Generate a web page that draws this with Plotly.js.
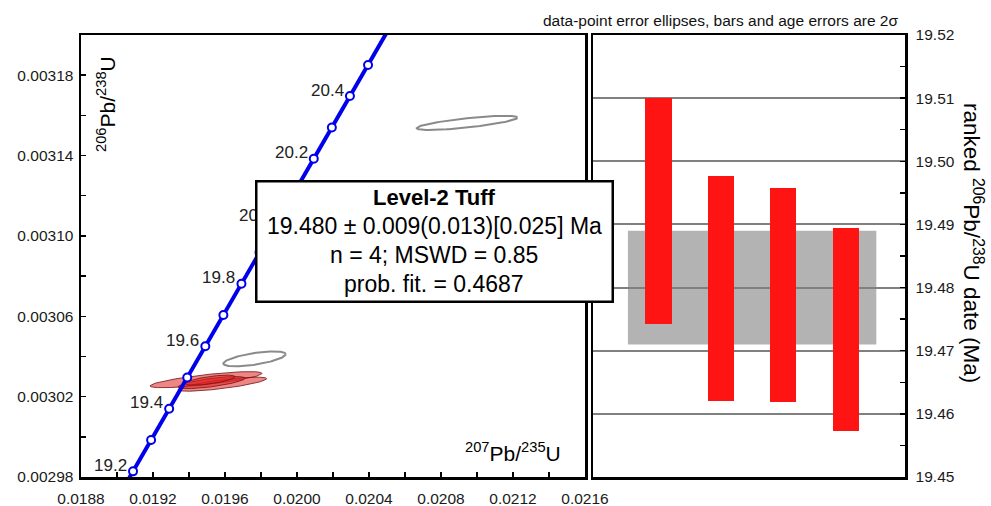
<!DOCTYPE html>
<html>
<head>
<meta charset="utf-8">
<script src="https://cdn.plot.ly/plotly-3.0.1.min.js"></script>
<style>html,body{margin:0;padding:0;background:#fff;}#chart{width:991px;height:506px;}</style>
</head>
<body>
<div id="chart"></div>
<script>
// ---- Concordia (age ticks, Ma) ----
const concAges = [19.2, 19.3, 19.4, 19.5, 19.6, 19.7, 19.8, 19.9, 20.0, 20.1, 20.2, 20.3, 20.4, 20.5];
const concX = [0.0190890, 0.0191894, 0.0192898, 0.0193902, 0.0194906, 0.0195910, 0.0196914, 0.0197918, 0.0198923, 0.0199927, 0.0200932, 0.0201936, 0.0202941, 0.0203946];
const concY = [0.0029828, 0.0029984, 0.0030140, 0.0030295, 0.0030451, 0.0030606, 0.0030762, 0.0030918, 0.0031073, 0.0031229, 0.0031384, 0.0031540, 0.0031696, 0.0031851];
// curve continued beyond the plotted window (19.1 Ma and 20.6 Ma)
const concLineX = [0.0189887].concat(concX, [0.0204951]);
const concLineY = [0.0029673].concat(concY, [0.0032007]);
const concLabels = ["19.2", "19.4", "19.6", "19.8", "20.0", "20.2", "20.4"];

// ---- Data-point ellipses (2 sigma): 207Pb/235U, 206Pb/238U, errors, rho ----
const usedX   = [0.0194944, 0.0195850, 0.0195250, 0.0195167];
const usedY   = [0.00302845, 0.0030262, 0.0030270, 0.0030282];
const usedSX  = [0.000311, 0.000246, 0.000186, 0.000139];
const usedSY  = [0.00000400, 0.00000350, 0.00000300, 0.00000250];
const usedRho = [0.78, 0.78, 0.72, 0.68];

const rejX   = [0.0209444, 0.0197639];
const rejY   = [0.00315625, 0.0030388];
const rejSX  = [0.0002794, 0.0001733];
const rejSY  = [0.00000350, 0.00000370];
const rejRho = [0.75, 0.62];

// ---- Ranked 206Pb/238U dates (Ma), 2 sigma ranges ----
const rank     = [1, 2, 3, 4];
const dateHigh = [19.5100, 19.4977, 19.4957, 19.4894];
const dateLow  = [19.4742, 19.4621, 19.4619, 19.4573];
const meanAge = 19.480;
const meanErr = 0.009;

const infoLines = ["<b>Level-2 Tuff</b>", "19.480 ± 0.009(0.013)[0.025] Ma", "n = 4; MSWD = 0.85", "prob. fit. = 0.4687"];

// ---------------------------------------------------------------
const FONT = "Liberation Sans, Arial, Helvetica, sans-serif";
function ellipse(cx, cy, sx, sy, rho) {
  const xs = [], ys = [];
  const k = Math.sqrt(1 - rho * rho);
  for (let i = 0; i <= 120; i++) {
    const t = 2 * Math.PI * i / 120;
    xs.push(cx + sx * Math.cos(t));
    ys.push(cy + sy * (rho * Math.cos(t) + k * Math.sin(t)));
  }
  return {xs, ys};
}

const traces = [];
for (let i = 0; i < usedX.length; i++) {
  const e = ellipse(usedX[i], usedY[i], usedSX[i], usedSY[i], usedRho[i]);
  traces.push({x: e.xs, y: e.ys, type: 'scatter', mode: 'lines', fill: 'toself',
    fillcolor: 'rgba(225,35,35,0.55)', line: {color: 'rgba(110,20,20,0.8)', width: 1},
    hoverinfo: 'skip', xaxis: 'x', yaxis: 'y'});
}
for (let i = 0; i < rejX.length; i++) {
  const e = ellipse(rejX[i], rejY[i], rejSX[i], rejSY[i], rejRho[i]);
  traces.push({x: e.xs, y: e.ys, type: 'scatter', mode: 'lines',
    line: {color: '#8a8a8a', width: 2}, hoverinfo: 'skip', xaxis: 'x', yaxis: 'y'});
}
traces.push({x: concLineX, y: concLineY, type: 'scatter', mode: 'lines',
  line: {color: 'rgb(0,0,235)', width: 4}, xaxis: 'x', yaxis: 'y', cliponaxis: true});
traces.push({x: concX, y: concY, type: 'scatter', mode: 'markers',
  marker: {symbol: 'circle', size: 8, color: 'white', line: {color: 'rgb(0,0,235)', width: 2}},
  xaxis: 'x', yaxis: 'y', cliponaxis: false});
traces.push({x: rank, y: dateHigh.map((h, i) => h - dateLow[i]), base: dateLow, type: 'bar',
  width: 0.42, marker: {color: 'rgb(255,20,20)', line: {width: 0}}, xaxis: 'x2', yaxis: 'y2'});

const annotations = [];
concLabels.forEach(lab => {
  const i = concAges.indexOf(parseFloat(lab));
  annotations.push({x: concX[i], y: concY[i], xref: 'x', yref: 'y', text: lab, showarrow: false,
    xanchor: 'right', yanchor: 'middle', xshift: -4, yshift: 6, font: {family: FONT, size: 17, color: '#222'}});
});
// result box
annotations.push({x: 434 / 991, y: 1 - 241 / 506, xref: 'paper', yref: 'paper', text: ' ', showarrow: false,
  width: 354, height: 118, bgcolor: 'white', bordercolor: 'black', borderwidth: 2.5, borderpad: 0,
  xanchor: 'center', yanchor: 'middle', font: {family: FONT, size: 12}});
const lineYs = [198, 226.5, 255, 283.5];
infoLines.forEach((t, i) => {
  annotations.push({x: 434 / 991, y: 1 - lineYs[i] / 506, xref: 'paper', yref: 'paper', text: t, showarrow: false,
    xanchor: 'center', yanchor: 'middle', font: {family: FONT, size: i === 0 ? 22 : 23, color: 'black'}});
});
// axis titles
annotations.push({x: 106 / 991, y: 1 - 104 / 506, xref: 'paper', yref: 'paper', textangle: -90,
  text: '<sup>206</sup>Pb/<sup>238</sup>U', showarrow: false, xanchor: 'center', yanchor: 'middle',
  font: {family: FONT, size: 21, color: 'black'}});
annotations.push({x: 513 / 991, y: 1 - 452 / 506, xref: 'paper', yref: 'paper',
  text: '<sup>207</sup>Pb/<sup>235</sup>U', showarrow: false, xanchor: 'center', yanchor: 'middle',
  font: {family: FONT, size: 21, color: 'black'}});
annotations.push({x: 973 / 991, y: 1 - 243 / 506, xref: 'paper', yref: 'paper', textangle: 90,
  text: 'ranked <sup>206</sup>Pb/<sup>238</sup>U date (Ma)', showarrow: false, xanchor: 'center', yanchor: 'middle',
  font: {family: FONT, size: 22.5, color: 'black'}});
annotations.push({x: 900 / 991, y: 1 - 21 / 506, xref: 'paper', yref: 'paper',
  text: 'data-point error ellipses, bars and age errors are 2σ', showarrow: false, xanchor: 'right', yanchor: 'middle',
  font: {family: FONT, size: 15.5, color: '#111'}});

const tickCommon = {ticks: 'inside', ticklen: 5, tickwidth: 1.5, tickcolor: 'black',
  showline: true, mirror: true, linewidth: 2.5, linecolor: 'black', zeroline: false, automargin: false,
  tickfont: {family: FONT, size: 15.5, color: '#1a1a1a'}};
const yDom = [1 - 477 / 506, 1 - 35 / 506];

const layout = {
  width: 991, height: 506, margin: {l: 0, r: 0, t: 0, b: 0},
  paper_bgcolor: 'white', plot_bgcolor: 'white', showlegend: false, bargap: 0,
  xaxis: Object.assign({}, tickCommon, {domain: [81 / 991, 585 / 991], range: [0.0188, 0.0216],
    tick0: 0.0188, dtick: 0.0004, tickformat: '.4f', showgrid: false, anchor: 'y', ticklabelstandoff: 6,
    minor: {dtick: 0.0002, ticks: 'inside', ticklen: 5, tickwidth: 1.5, tickcolor: 'black', showgrid: false}}),
  yaxis: Object.assign({}, tickCommon, {domain: yDom, range: [0.00298, 0.0032],
    tick0: 0.00298, dtick: 0.00004, tickformat: '.5f', showgrid: false, anchor: 'x', ticklabelstandoff: 2,
    minor: {dtick: 0.00002, ticks: 'inside', ticklen: 5, tickwidth: 1.5, tickcolor: 'black', showgrid: false}}),
  xaxis2: {domain: [593 / 991, 905 / 991], range: [-0.05, 4.95], showticklabels: false, ticks: '',
    showline: true, mirror: true, linewidth: 2.5, linecolor: 'black', showgrid: false, zeroline: false, anchor: 'y2'},
  yaxis2: Object.assign({}, tickCommon, {domain: yDom, range: [19.45, 19.52], side: 'right', anchor: 'x2',
    tick0: 19.45, dtick: 0.01, tickformat: '.2f', showgrid: true, gridcolor: '#808080', gridwidth: 2, ticklabelstandoff: 5,
    minor: {dtick: 0.005, ticks: 'inside', ticklen: 5, tickwidth: 1.5, tickcolor: 'black', showgrid: false}}),
  shapes: [{type: 'rect', xref: 'x2', yref: 'y2', x0: rank[0] - 0.49, x1: rank[rank.length - 1] + 0.49,
    y0: meanAge - meanErr, y1: meanAge + meanErr, fillcolor: '#b3b3b3', line: {width: 0}, layer: 'below'}],
  annotations: annotations
};

Plotly.newPlot('chart', traces, layout, {staticPlot: true, displayModeBar: false});
</script>
</body>
</html>
